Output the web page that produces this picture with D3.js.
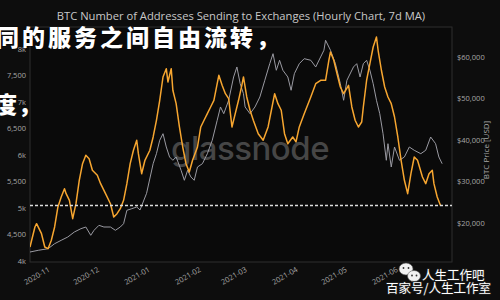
<!DOCTYPE html>
<html><head><meta charset="utf-8">
<script src="https://cdn.jsdelivr.net/npm/d3@7"></script>
<style>body{margin:0;background:#0d0d0d;}svg{display:block}</style>
</head><body>
<svg id="c" width="500" height="300"></svg>
<script>
const title = "BTC Number of Addresses Sending to Exchanges (Hourly Chart, 7d MA)";
const addrDates = ["2020-10-22","2020-10-25","2020-10-26","2020-10-29","2020-10-31","2020-11-02","2020-11-04","2020-11-06","2020-11-08","2020-11-10","2020-11-12","2020-11-13","2020-11-15","2020-11-17","2020-11-19","2020-11-21","2020-11-23","2020-11-25","2020-11-27","2020-11-29","2020-12-02","2020-12-04","2020-12-07","2020-12-10","2020-12-12","2020-12-14","2020-12-16","2020-12-18","2020-12-20","2020-12-22","2020-12-24","2020-12-26","2020-12-27","2020-12-29","2020-12-31","2021-01-03","2021-01-05","2021-01-07","2021-01-09","2021-01-11","2021-01-13","2021-01-14","2021-01-16","2021-01-17","2021-01-19","2021-01-21","2021-01-23","2021-01-25","2021-01-27","2021-01-29","2021-02-01","2021-02-03","2021-02-05","2021-02-07","2021-02-09","2021-02-11","2021-02-13","2021-02-14","2021-02-16","2021-02-18","2021-02-20","2021-02-22","2021-02-24","2021-02-26","2021-02-28","2021-03-01","2021-03-03","2021-03-05","2021-03-07","2021-03-10","2021-03-13","2021-03-16","2021-03-18","2021-03-20","2021-03-22","2021-03-24","2021-03-26","2021-03-28","2021-03-31","2021-04-02","2021-04-04","2021-04-07","2021-04-11","2021-04-14","2021-04-17","2021-04-20","2021-04-22","2021-04-23","2021-04-25","2021-04-27","2021-04-29","2021-05-01","2021-05-04","2021-05-06","2021-05-08","2021-05-10","2021-05-12","2021-05-13","2021-05-15","2021-05-17","2021-05-19","2021-05-21","2021-05-22","2021-05-24","2021-05-26","2021-05-28","2021-05-30","2021-06-01","2021-06-03","2021-06-05","2021-06-07","2021-06-09","2021-06-11","2021-06-13","2021-06-15","2021-06-18","2021-06-20","2021-06-22","2021-06-24","2021-06-25","2021-06-27","2021-06-29"];
const addrValues = [4264,4642,4704,4515,4264,4232,4391,4642,5019,5208,5364,5270,5145,4798,5081,5523,5836,5995,5930,5711,5617,5459,5270,5081,4830,4893,4987,5145,5459,5836,6089,6278,6025,5647,5900,6089,6340,6655,7032,7472,7629,7378,7629,7221,6968,6529,6151,5836,5679,5900,6151,6529,6655,6780,6906,7032,7346,7504,7315,7157,7063,6529,6780,7032,7315,7472,7095,6844,6655,6402,6278,6529,6844,7157,6968,6844,6402,6213,6340,6246,6529,6780,7095,7346,7410,7410,7787,7944,7787,7534,7283,7157,7315,6906,6655,6529,6623,6906,7410,7723,8038,8227,7976,7599,7283,7095,6968,6717,6340,5900,5523,5270,5647,5962,5900,5585,5459,5647,5711,5459,5208,5047];
const priceDates = ["2020-10-22","2020-10-27","2020-11-02","2020-11-06","2020-11-10","2020-11-14","2020-11-18","2020-11-22","2020-11-25","2020-11-28","2020-11-30","2020-12-03","2020-12-06","2020-12-10","2020-12-13","2020-12-16","2020-12-18","2020-12-20","2020-12-23","2020-12-26","2020-12-28","2021-01-01","2021-01-05","2021-01-07","2021-01-09","2021-01-11","2021-01-13","2021-01-15","2021-01-17","2021-01-19","2021-01-22","2021-01-24","2021-01-26","2021-01-28","2021-01-30","2021-02-01","2021-02-04","2021-02-07","2021-02-10","2021-02-13","2021-02-15","2021-02-17","2021-02-20","2021-02-23","2021-02-25","2021-02-27","2021-03-01","2021-03-02","2021-03-05","2021-03-08","2021-03-11","2021-03-14","2021-03-17","2021-03-19","2021-03-21","2021-03-23","2021-03-25","2021-03-28","2021-03-30","2021-04-01","2021-04-04","2021-04-07","2021-04-11","2021-04-14","2021-04-17","2021-04-19","2021-04-20","2021-04-23","2021-04-26","2021-04-29","2021-05-01","2021-05-03","2021-05-07","2021-05-09","2021-05-11","2021-05-13","2021-05-15","2021-05-17","2021-05-19","2021-05-21","2021-05-23","2021-05-25","2021-05-27","2021-05-28","2021-05-30","2021-06-01","2021-06-04","2021-06-07","2021-06-10","2021-06-13","2021-06-17","2021-06-20","2021-06-23","2021-06-26","2021-06-28","2021-06-30"];
const priceValues = [13011,13420,13806,15011,15831,16626,17831,18626,19036,17036,18241,19446,19036,19036,18241,19036,19831,23061,23446,23856,23133,27158,34291,36701,39931,41521,38316,35906,35111,35906,32701,30291,32701,31086,30291,33496,34291,36701,39931,44751,47956,46341,49571,55186,57596,53571,51161,47956,46341,47956,50366,54391,58391,60801,56801,59211,56801,55186,51981,55981,58391,59596,59211,57596,60006,61621,64031,61621,58391,53571,49571,54391,57596,58391,55186,58391,59211,56801,53571,49571,46341,41521,35111,39111,33496,38316,35111,35906,38316,37521,36701,37521,40726,39111,35906,34291];
const leftTicks = [4000,4500,5000,5500,6000,6500,7000,7500,8000];
const rightTicks = [20000,30000,40000,50000,60000];
const monthTicks = ["2020-11-01","2020-12-01","2021-01-01","2021-02-01","2021-03-01","2021-04-01","2021-05-01","2021-06-01"];
const xDomain = ["2020-10-22","2021-07-06"];
const overlayTop = "同的服务之间自由流转，";
const overlayMid = "度，";
const brand = "glassnode";
const wmLine1 = "人生工作吧";
const wmLine2 = "百家号/人生工作室";

const svg = d3.select("#c");
const W = 500, H = 300;
const L = 30, R = 452, T = 27, B = 262;
svg.append("rect").attr("width", W).attr("height", H).attr("fill", "#0d0d0d");

const x = d3.scaleUtc().domain(xDomain.map(d => new Date(d))).range([L, R]);
const yL = d3.scaleLinear().domain([4000, 8000]).range([261, 49]);
const yR = d3.scaleLinear().domain([20000, 60000]).range([223, 57]);

// frame
svg.append("rect").attr("x", L).attr("y", T).attr("width", R - L).attr("height", B - T)
  .attr("fill", "#0a0a0a").attr("stroke", "#2e2e2e").attr("stroke-width", 1);

// title
svg.append("text").attr("x", 241).attr("y", 20).attr("text-anchor", "middle")
  .attr("font-family", "Open Sans, sans-serif").attr("font-size", 11.2).attr("fill", "#c8c8c8")
  .text(title);

// left axis
const fmtL = v => v % 1000 === 0 ? (v / 1000) + "k" : d3.format(",")(v);
const axL = svg.append("g").attr("transform", `translate(${L},0)`)
  .call(d3.axisLeft(yL).tickValues(leftTicks).tickFormat(fmtL).tickSize(0).tickPadding(4));
axL.select(".domain").remove();
axL.selectAll("text").attr("fill", "#a8a8a8").attr("font-size", 7.5).attr("font-family", "Open Sans, sans-serif");

// right axis
const axR = svg.append("g").attr("transform", `translate(${R},0)`)
  .call(d3.axisRight(yR).tickValues(rightTicks).tickFormat(v => "$" + d3.format(",")(v)).tickSize(0).tickPadding(5));
axR.select(".domain").remove();
axR.selectAll("text").attr("fill", "#a8a8a8").attr("font-size", 7.5).attr("font-family", "Open Sans, sans-serif");
svg.append("text").attr("transform", "translate(489,150) rotate(-90)").attr("text-anchor", "middle")
  .attr("font-family", "Open Sans, sans-serif").attr("font-size", 8).attr("fill", "#a8a8a8").text("BTC Price [USD]");

// x axis
const axX = svg.append("g").attr("transform", `translate(0,${B})`)
  .call(d3.axisBottom(x).tickValues(monthTicks.map(d => new Date(d))).tickFormat(d3.utcFormat("%Y-%m")).tickSize(0).tickPadding(5));
axX.select(".domain").remove();
axX.selectAll("text").attr("fill", "#a8a8a8").attr("font-size", 7.5).attr("font-family", "Open Sans, sans-serif")
  .attr("text-anchor", "end").attr("transform", "rotate(-30)").attr("dx", "-0.2em").attr("dy", "0.6em");

// clip
svg.append("clipPath").attr("id", "pc").append("rect").attr("x", L).attr("y", T).attr("width", R - L).attr("height", B - T);
const g = svg.append("g").attr("clip-path", "url(#pc)");

// watermark glassnode
g.append("text").attr("x", 250).attr("y", 160).attr("text-anchor", "middle")
  .attr("font-family", "Inter, Roboto, sans-serif").attr("font-weight", 500).attr("font-size", 33)
  .attr("fill", "#5a5a5a").attr("fill-opacity", 0.75).attr("letter-spacing", -0.5).text(brand);

const priceData = priceDates.map((d, i) => ({ d: new Date(d), v: priceValues[i] }));
const addrData = addrDates.map((d, i) => ({ d: new Date(d), v: addrValues[i] }));

g.append("path").datum(priceData)
  .attr("d", d3.line().x(p => x(p.d)).y(p => yR(p.v)))
  .attr("fill", "none").attr("stroke", "#9a9aa2").attr("stroke-width", 1).attr("stroke-linejoin", "round");

g.append("path").datum(addrData)
  .attr("d", d3.line().x(p => x(p.d)).y(p => yL(p.v)))
  .attr("fill", "none").attr("stroke", "#f7a630").attr("stroke-width", 1.5).attr("stroke-linejoin", "round");

// dashed last-value line
const last = addrValues[addrValues.length - 1];
svg.append("line").attr("x1", L).attr("x2", R).attr("y1", yL(last)).attr("y2", yL(last))
  .attr("stroke", "#dcdcdc").attr("stroke-width", 1.3).attr("stroke-dasharray", "3,2");

// overlay Chinese text
svg.append("text").attr("x", -4).attr("y", 46).attr("font-family", "Noto Sans CJK SC").attr("font-weight", 900)
  .attr("font-size", 23).attr("letter-spacing", 3).attr("fill", "#ffffff").attr("stroke", "#000").attr("stroke-width", 0.6)
  .attr("paint-order", "stroke").text(overlayTop);
svg.append("text").attr("x", -6).attr("y", 113).attr("font-family", "Noto Sans CJK SC").attr("font-weight", 900)
  .attr("font-size", 23).attr("letter-spacing", 1).attr("fill", "#ffffff").text(overlayMid);

// bottom-right watermark
const wm = svg.append("g");
wm.append("ellipse").attr("cx", 406).attr("cy", 269).attr("rx", 7).attr("ry", 6).attr("fill", "#f2f2f2").attr("stroke", "#555").attr("stroke-width", 0.6);
wm.append("ellipse").attr("cx", 414).attr("cy", 276).attr("rx", 6.5).attr("ry", 5.5).attr("fill", "#f2f2f2").attr("stroke", "#555").attr("stroke-width", 0.6);
[[403.5,268],[408.5,268],[412,275.5],[416.5,275.5]].forEach(p =>
  wm.append("circle").attr("cx", p[0]).attr("cy", p[1]).attr("r", 0.9).attr("fill", "#333"));
wm.append("text").attr("x", 422).attr("y", 280).attr("font-family", "Noto Sans CJK SC").attr("font-size", 12.5)
  .attr("fill", "#fff").attr("stroke", "#222").attr("stroke-width", 1.4).attr("paint-order", "stroke").text(wmLine1);
wm.append("text").attr("x", 386).attr("y", 293).attr("font-family", "Noto Sans CJK SC").attr("font-size", 12.5)
  .attr("fill", "#fff").attr("stroke", "#222").attr("stroke-width", 1.4).attr("paint-order", "stroke").text(wmLine2);
</script>
</body></html>
